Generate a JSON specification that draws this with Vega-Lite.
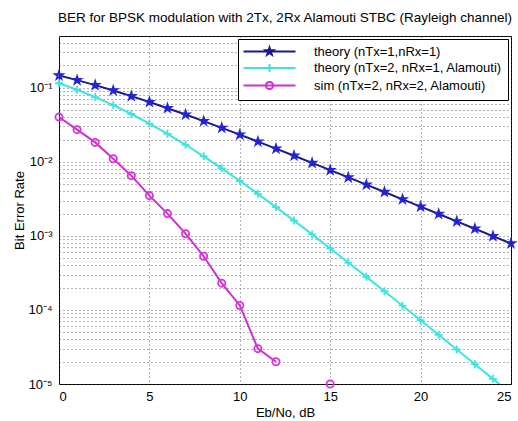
{
  "$schema": "https://vega.github.io/schema/vega-lite/v6.json",
  "autosize": {"type": "none"},
  "padding": {"left": 59, "top": 36, "right": 7, "bottom": 37},
  "width": 452,
  "height": 348,
  "background": "white",
  "title": {"text": "BER for BPSK modulation with 2Tx, 2Rx Alamouti STBC (Rayleigh channel)", "font": "Liberation Sans", "fontSize": 13.5, "fontWeight": "normal", "color": "black", "anchor": "middle", "offset": 6},
  "config": {
    "view": {"stroke": "black", "strokeWidth": 1},
    "axis": {"labelFont": "Liberation Sans", "labelFontSize": 13, "labelColor": "black", "titleFont": "Liberation Sans", "titleFontSize": 13, "titleFontWeight": "normal", "titleColor": "black", "domain": false, "ticks": false, "gridColor": "#444", "gridDash": [1, 3], "gridWidth": 1, "gridOpacity": 0.8}
  },
  "data": {"values": [
    {"snr": 0, "ber": 0.14645, "series": "theory (nTx=1,nRx=1)"},
    {"snr": 1, "ber": 0.12673, "series": "theory (nTx=1,nRx=1)"},
    {"snr": 2, "ber": 0.10848, "series": "theory (nTx=1,nRx=1)"},
    {"snr": 3, "ber": 0.09191, "series": "theory (nTx=1,nRx=1)"},
    {"snr": 4, "ber": 0.07714, "series": "theory (nTx=1,nRx=1)"},
    {"snr": 5, "ber": 0.06418, "series": "theory (nTx=1,nRx=1)"},
    {"snr": 6, "ber": 0.053, "series": "theory (nTx=1,nRx=1)"},
    {"snr": 7, "ber": 0.04348, "series": "theory (nTx=1,nRx=1)"},
    {"snr": 8, "ber": 0.03546, "series": "theory (nTx=1,nRx=1)"},
    {"snr": 9, "ber": 0.02878, "series": "theory (nTx=1,nRx=1)"},
    {"snr": 10, "ber": 0.02327, "series": "theory (nTx=1,nRx=1)"},
    {"snr": 11, "ber": 0.01875, "series": "theory (nTx=1,nRx=1)"},
    {"snr": 12, "ber": 0.015065, "series": "theory (nTx=1,nRx=1)"},
    {"snr": 13, "ber": 0.01208, "series": "theory (nTx=1,nRx=1)"},
    {"snr": 14, "ber": 0.009665, "series": "theory (nTx=1,nRx=1)"},
    {"snr": 15, "ber": 0.007718, "series": "theory (nTx=1,nRx=1)"},
    {"snr": 16, "ber": 0.006161, "series": "theory (nTx=1,nRx=1)"},
    {"snr": 17, "ber": 0.004914, "series": "theory (nTx=1,nRx=1)"},
    {"snr": 18, "ber": 0.003915, "series": "theory (nTx=1,nRx=1)"},
    {"snr": 19, "ber": 0.003118, "series": "theory (nTx=1,nRx=1)"},
    {"snr": 20, "ber": 0.002481, "series": "theory (nTx=1,nRx=1)"},
    {"snr": 21, "ber": 0.001974, "series": "theory (nTx=1,nRx=1)"},
    {"snr": 22, "ber": 0.00157, "series": "theory (nTx=1,nRx=1)"},
    {"snr": 23, "ber": 0.001248, "series": "theory (nTx=1,nRx=1)"},
    {"snr": 24, "ber": 0.000992, "series": "theory (nTx=1,nRx=1)"},
    {"snr": 25, "ber": 0.000789, "series": "theory (nTx=1,nRx=1)"},
    {"snr": 0, "ber": 0.1151, "series": "theory (nTx=2, nRx=1, Alamouti)"},
    {"snr": 1, "ber": 0.09388, "series": "theory (nTx=2, nRx=1, Alamouti)"},
    {"snr": 2, "ber": 0.07481, "series": "theory (nTx=2, nRx=1, Alamouti)"},
    {"snr": 3, "ber": 0.05822, "series": "theory (nTx=2, nRx=1, Alamouti)"},
    {"snr": 4, "ber": 0.04424, "series": "theory (nTx=2, nRx=1, Alamouti)"},
    {"snr": 5, "ber": 0.03286, "series": "theory (nTx=2, nRx=1, Alamouti)"},
    {"snr": 6, "ber": 0.02387, "series": "theory (nTx=2, nRx=1, Alamouti)"},
    {"snr": 7, "ber": 0.01699, "series": "theory (nTx=2, nRx=1, Alamouti)"},
    {"snr": 8, "ber": 0.011872, "series": "theory (nTx=2, nRx=1, Alamouti)"},
    {"snr": 9, "ber": 0.008159, "series": "theory (nTx=2, nRx=1, Alamouti)"},
    {"snr": 10, "ber": 0.005528, "series": "theory (nTx=2, nRx=1, Alamouti)"},
    {"snr": 11, "ber": 0.003698, "series": "theory (nTx=2, nRx=1, Alamouti)"},
    {"snr": 12, "ber": 0.002448, "series": "theory (nTx=2, nRx=1, Alamouti)"},
    {"snr": 13, "ber": 0.001608, "series": "theory (nTx=2, nRx=1, Alamouti)"},
    {"snr": 14, "ber": 0.0010466, "series": "theory (nTx=2, nRx=1, Alamouti)"},
    {"snr": 15, "ber": 0.0006772, "series": "theory (nTx=2, nRx=1, Alamouti)"},
    {"snr": 16, "ber": 0.0004361, "series": "theory (nTx=2, nRx=1, Alamouti)"},
    {"snr": 17, "ber": 0.00027975, "series": "theory (nTx=2, nRx=1, Alamouti)"},
    {"snr": 18, "ber": 0.00017884, "series": "theory (nTx=2, nRx=1, Alamouti)"},
    {"snr": 19, "ber": 0.00011403, "series": "theory (nTx=2, nRx=1, Alamouti)"},
    {"snr": 20, "ber": 0.000072564, "series": "theory (nTx=2, nRx=1, Alamouti)"},
    {"snr": 21, "ber": 0.000046096, "series": "theory (nTx=2, nRx=1, Alamouti)"},
    {"snr": 22, "ber": 0.000029241, "series": "theory (nTx=2, nRx=1, Alamouti)"},
    {"snr": 23, "ber": 0.000018528, "series": "theory (nTx=2, nRx=1, Alamouti)"},
    {"snr": 24, "ber": 0.000011731, "series": "theory (nTx=2, nRx=1, Alamouti)"},
    {"snr": 25, "ber": 0.000007422, "series": "theory (nTx=2, nRx=1, Alamouti)"},
    {"snr": 0, "ber": 0.0402, "series": "sim (nTx=2, nRx=2, Alamouti)"},
    {"snr": 1, "ber": 0.0272, "series": "sim (nTx=2, nRx=2, Alamouti)"},
    {"snr": 2, "ber": 0.0183, "series": "sim (nTx=2, nRx=2, Alamouti)"},
    {"snr": 3, "ber": 0.011, "series": "sim (nTx=2, nRx=2, Alamouti)"},
    {"snr": 4, "ber": 0.0065, "series": "sim (nTx=2, nRx=2, Alamouti)"},
    {"snr": 5, "ber": 0.0035, "series": "sim (nTx=2, nRx=2, Alamouti)"},
    {"snr": 6, "ber": 0.002, "series": "sim (nTx=2, nRx=2, Alamouti)"},
    {"snr": 7, "ber": 0.00107, "series": "sim (nTx=2, nRx=2, Alamouti)"},
    {"snr": 8, "ber": 0.00053, "series": "sim (nTx=2, nRx=2, Alamouti)"},
    {"snr": 9, "ber": 0.00023, "series": "sim (nTx=2, nRx=2, Alamouti)"},
    {"snr": 10, "ber": 0.000115, "series": "sim (nTx=2, nRx=2, Alamouti)"},
    {"snr": 11, "ber": 0.00003, "series": "sim (nTx=2, nRx=2, Alamouti)"},
    {"snr": 12, "ber": 0.00002, "series": "sim (nTx=2, nRx=2, Alamouti)"},
    {"snr": 13, "ber": null, "series": "sim (nTx=2, nRx=2, Alamouti)"},
    {"snr": 14, "ber": null, "series": "sim (nTx=2, nRx=2, Alamouti)"},
    {"snr": 15, "ber": 0.00001, "series": "sim (nTx=2, nRx=2, Alamouti)"}
  ]},
  "encoding": {
    "x": {"field": "snr", "type": "quantitative", "scale": {"domain": [0, 25], "nice": false, "zero": false}, "axis": {"values": [0, 5, 10, 15, 20, 25], "title": "Eb/No, dB", "labelPadding": 6, "titlePadding": 3}},
    "y": {"field": "ber", "type": "quantitative", "scale": {"type": "log", "domain": [0.00001, 0.5], "nice": false}, "axis": {"title": "Bit Error Rate", "values": [0.00001, 0.00002, 0.00003, 0.00004, 0.00005, 0.00006, 0.00007, 0.00008, 0.00009, 0.0001, 0.0002, 0.0003, 0.0004, 0.0005, 0.0006, 0.0007, 0.0008, 0.0009, 0.001, 0.002, 0.003, 0.004, 0.005, 0.006, 0.007, 0.008, 0.009, 0.01, 0.02, 0.03, 0.04, 0.05, 0.06, 0.07, 0.08, 0.09, 0.1, 0.2, 0.3, 0.4, 0.5], "labelExpr": "abs(log(datum.value)/LN10 - round(log(datum.value)/LN10)) < 0.001 ? '10' + ['⁰','⁻¹','⁻²','⁻³','⁻⁴','⁻⁵'][-round(log(datum.value)/LN10)] : ''", "labelOverlap": false, "labelFlush": false, "labelPadding": 7, "titlePadding": 1}}
  },
  "layer": [
    {
      "mark": {"type": "line", "clip": true, "strokeWidth": 2, "invalid": "break-paths-filter-domains"},
      "encoding": {
        "color": {"field": "series", "type": "nominal", "scale": {"domain": ["theory (nTx=1,nRx=1)", "theory (nTx=2, nRx=1, Alamouti)", "sim (nTx=2, nRx=2, Alamouti)"], "range": ["#1a1a8c", "#3ee4e4", "#cc33cc"]},
          "legend": {"title": null, "orient": "top-right", "offset": 3, "strokeColor": "black", "fillColor": "white", "padding": 6, "rowPadding": 0.5, "symbolSize": 100, "symbolOffset": 19, "labelOffset": 38, "symbolStrokeWidth": 2, "symbolFillColor": "transparent", "labelFont": "Liberation Sans", "labelFontSize": 13, "labelColor": "black", "labelLimit": 400,
            "encode": {"symbols": {"update": {"shape": {"signal": "datum.value === 'theory (nTx=1,nRx=1)' ? 'M-5.2,0H5.2M0,-0.8L0.1796,-0.2472L0.7608,-0.2472L0.2906,0.0944L0.4704,0.6472L0,0.3056L-0.4704,0.6472L-0.2906,0.0944L-0.7608,-0.2472L-0.1796,-0.2472Z' : datum.value === 'theory (nTx=2, nRx=1, Alamouti)' ? 'M-5.2,0H5.2M0,-0.8V0.8' : 'M-5.2,0H5.2M0.72,0A0.72,0.72,0,1,1,-0.72,0A0.72,0.72,0,1,1,0.72,0Z'"}}}}}
        }
      }
    },
    {
      "transform": [{"filter": "datum.series === 'theory (nTx=1,nRx=1)'"}],
      "mark": {"type": "point", "clip": false, "filled": false, "strokeWidth": 1.8, "size": 64, "opacity": 1, "color": "#2424d4", "shape": "M0,-1L0.2245,-0.309L0.951,-0.309L0.3633,0.118L0.588,0.809L0,0.382L-0.588,0.809L-0.3633,0.118L-0.951,-0.309L-0.2245,-0.309Z"}
    },
    {
      "transform": [{"filter": "datum.series === 'theory (nTx=2, nRx=1, Alamouti)' && datum.ber >= 0.00001"}],
      "mark": {"type": "point", "clip": false, "filled": false, "strokeWidth": 1.8, "size": 64, "opacity": 1, "color": "#3ee4e4", "shape": "M-1,0H1M0,-1V1"}
    },
    {
      "transform": [{"filter": "datum.series === 'sim (nTx=2, nRx=2, Alamouti)' && isValid(datum.ber)"}],
      "mark": {"type": "point", "clip": false, "filled": false, "strokeWidth": 1.8, "size": 64, "opacity": 1, "color": "#dd33dd", "shape": "M0.9,0A0.9,0.9,0,1,1,-0.9,0A0.9,0.9,0,1,1,0.9,0Z"}
    }
  ]
}
